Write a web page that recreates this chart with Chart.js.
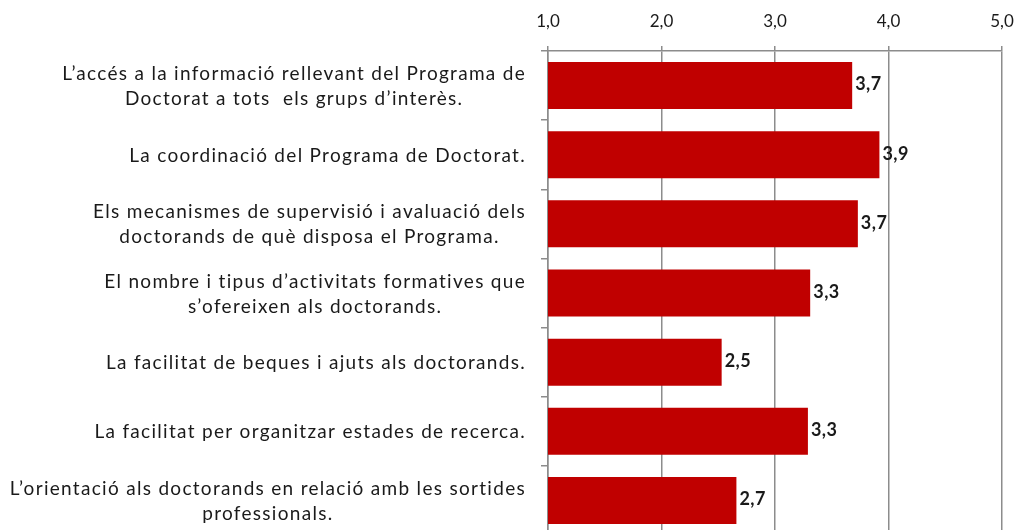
<!DOCTYPE html>
<html>
<head>
<meta charset="utf-8">
<script src="https://cdn.jsdelivr.net/npm/chart.js@4.4.1/dist/chart.umd.min.js"></script>
<style>
  html, body { margin: 0; padding: 0; background: #fff; overflow: hidden; }
  #wrap { width: 1017px; height: 535px; position: relative; }
</style>
</head>
<body>
<div id="wrap"><canvas id="chart"></canvas></div>
<script>
// Data
const categories = [
  ['L\u2019accés a la informació rellevant del Programa de', 'Doctorat a tots  els grups d\u2019interès.'],
  ['La coordinació del Programa de Doctorat.'],
  ['Els mecanismes de supervisió i avaluació dels', 'doctorands de què disposa el Programa.'],
  ['El nombre i tipus d\u2019activitats formatives que', 's\u2019ofereixen als doctorands.'],
  ['La facilitat de beques i ajuts als doctorands.'],
  ['La facilitat per organitzar estades de recerca.'],
  ['L\u2019orientació als doctorands en relació amb les sortides', 'professionals.']
];
const values = [3.68, 3.92, 3.73, 3.31, 2.53, 3.29, 2.66];
const tickValues = [1, 2, 3, 4, 5];

const FONT = 'Lato, "Open Sans", sans-serif';
const TEXT = '#1a1a1a';
const AXIS = '#8c8c8c';

function fmt(v, d) {
  return v.toFixed(d).replace('.', ',');
}

// category labels: each block right-aligned, lines centred in the block
const categoryLabels = {
  id: 'categoryLabels',
  afterDraw(chart) {
    const ctx = chart.ctx;
    const y = chart.scales.y;
    ctx.save();
    ctx.font = '19px ' + FONT;
    ctx.letterSpacing = '1.3px';
    ctx.fillStyle = TEXT;
    ctx.textAlign = 'center';
    ctx.textBaseline = 'middle';
    const right = 526, lh = 25;
    categories.forEach((lines, i) => {
      const w = Math.max(...lines.map(l => ctx.measureText(l).width));
      const cx = right - w / 2;
      const cy = y.getPixelForTick(i) + 1;
      lines.forEach((l, j) => {
        ctx.fillText(l, cx, cy + (j - (lines.length - 1) / 2) * lh);
      });
    });
    ctx.letterSpacing = '0px';
    ctx.restore();
  }
};

// value labels at the end of each bar
const valueLabels = {
  id: 'valueLabels',
  afterDatasetsDraw(chart) {
    const ctx = chart.ctx;
    const meta = chart.getDatasetMeta(0);
    ctx.save();
    ctx.font = 'bold 18px ' + FONT;
    ctx.letterSpacing = '0.5px';
    ctx.fillStyle = TEXT;
    ctx.textAlign = 'left';
    ctx.textBaseline = 'middle';
    meta.data.forEach((bar, i) => {
      ctx.fillText(fmt(values[i], 1), bar.x + 3, bar.y - 1);
    });
    ctx.letterSpacing = '0px';
    ctx.restore();
  }
};

const ctx = document.getElementById('chart').getContext('2d');
new Chart(ctx, {
  type: 'bar',
  data: {
    labels: categories.map((c, i) => i),
    datasets: [{
      data: values,
      backgroundColor: '#c00000',
      borderWidth: 0,
      categoryPercentage: 1,
      barPercentage: 0.68
    }]
  },
  options: {
    indexAxis: 'y',
    responsive: true,
    maintainAspectRatio: false,
    animation: false,
    layout: { padding: { left: 0, right: 15, top: 0, bottom: 0 } },
    plugins: {
      legend: { display: false },
      tooltip: { enabled: false }
    },
    scales: {
      x: {
        position: 'top',
        min: 1,
        max: 5,
        afterBuildTicks(scale) {
          scale.ticks = tickValues.map(v => ({ value: v }));
        },
        afterFit(scale) { scale.height = 51; },
        ticks: {
          font: { family: FONT, size: 17, lineHeight: '44px' },
          color: TEXT,
          padding: 2,
          callback: v => fmt(v, 1)
        },
        grid: {
          color: AXIS,
          lineWidth: 1.5,
          tickLength: 5
        },
        border: { color: AXIS, width: 1.5 }
      },
      y: {
        afterFit(scale) { scale.width = 548; },
        ticks: { display: false },
        grid: {
          offset: true,
          drawOnChartArea: false,
          color: AXIS,
          lineWidth: 1.5,
          tickLength: 7
        },
        border: { color: AXIS, width: 1.5 }
      }
    }
  },
  plugins: [categoryLabels, valueLabels]
});
</script>
</body>
</html>
